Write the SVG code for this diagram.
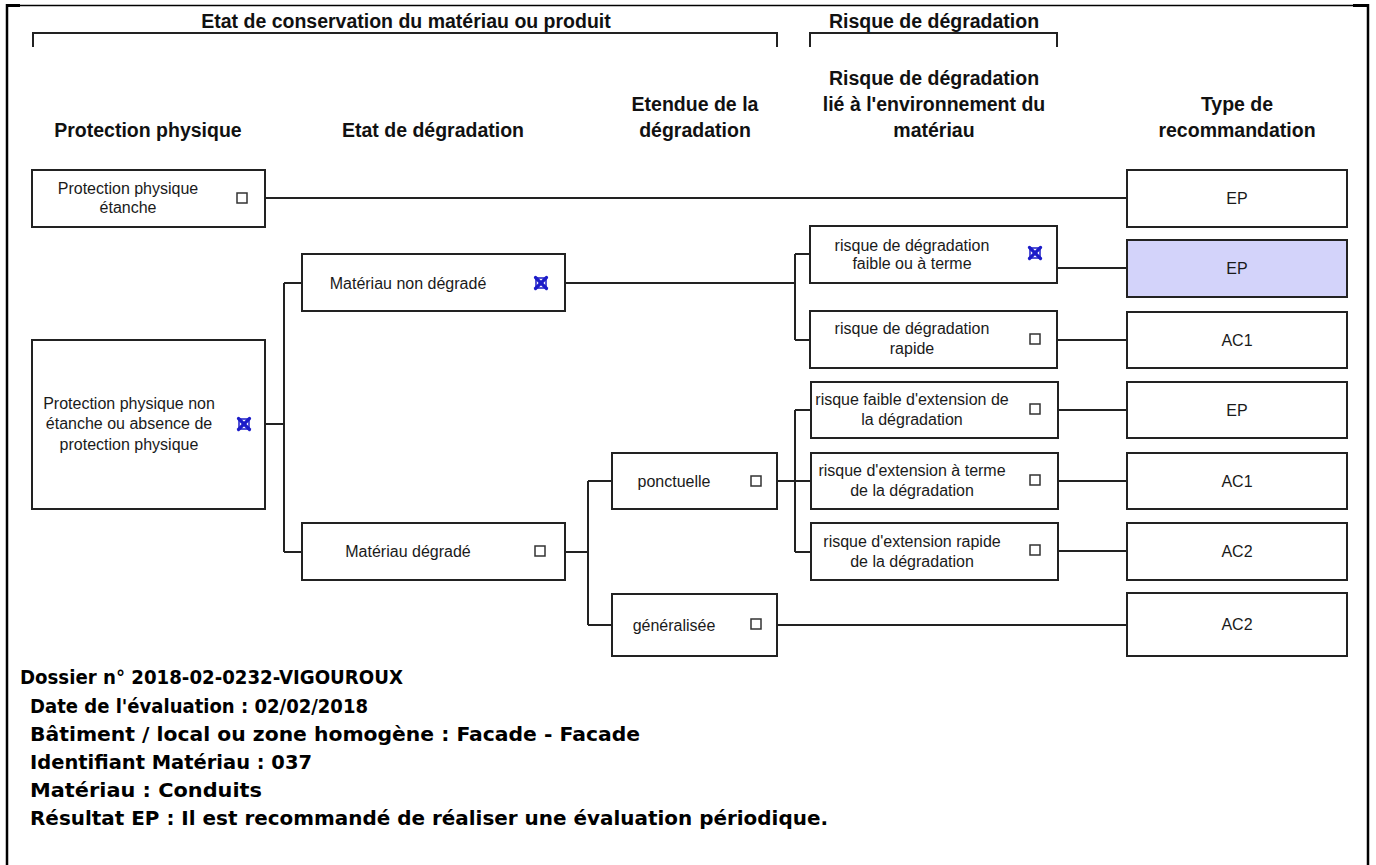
<svg xmlns="http://www.w3.org/2000/svg" width="1376" height="865" viewBox="0 0 1376 865">
<defs>
<style>
.box{fill:#fff;stroke:#222;stroke-width:2}
.sel{fill:#d3d3fa;stroke:#222;stroke-width:2}
.lbl{font-family:"Liberation Sans",Arial,sans-serif;font-size:16px;fill:#1a1a1a;text-anchor:middle}
.hdr{font-family:"Liberation Sans",Arial,sans-serif;font-size:19.5px;font-weight:bold;fill:#111;text-anchor:middle}
.info{font-family:"DejaVu Sans",Verdana,sans-serif;font-size:19.5px;font-weight:bold;fill:#000}
.cb{fill:#fff;stroke:#333;stroke-width:1.5}
.xcb{fill:none;stroke:#1c1cc8;stroke-width:1.5}
.xm{stroke:#1c1cc8;stroke-width:3.2;stroke-linecap:round}
.con{fill:none;stroke:#222;stroke-width:2}
.frame{fill:none;stroke:#000}
</style>
<g id="cbox"><rect class="cb" x="-5" y="-5" width="10" height="10"/></g>
<g id="xbox"><rect class="xcb" x="-5" y="-5" width="10" height="10"/><line class="xm" x1="-5.5" y1="-5.5" x2="5.5" y2="5.5"/><line class="xm" x1="5.5" y1="-5.5" x2="-5.5" y2="5.5"/></g>
</defs>
<rect width="1376" height="865" fill="#fff"/>
<g id="frame">
<line class="frame" x1="7" y1="5.5" x2="1368" y2="5.5" stroke-width="1.5"/>
<line class="frame" x1="7" y1="5.5" x2="20" y2="5.5" stroke-width="3"/>
<line class="frame" x1="1353" y1="5.5" x2="1368" y2="5.5" stroke-width="3"/>
<line class="frame" x1="7" y1="4" x2="7" y2="865" stroke-width="2.5"/>
<line class="frame" x1="1368" y1="4" x2="1368" y2="865" stroke-width="2.5"/>
</g>
<g id="headers">
<text class="hdr" x="406" y="28">Etat de conservation du matériau ou produit</text>
<path class="con" d="M33,47 V33 H777 V47"/>
<text class="hdr" x="934" y="28">Risque de dégradation</text>
<path class="con" d="M810,47 V33 H1057 V47"/>
<text class="hdr" x="148" y="137">Protection physique</text>
<text class="hdr" x="433" y="137">Etat de dégradation</text>
<text class="hdr" x="695" y="111">Etendue de la</text>
<text class="hdr" x="695" y="137">dégradation</text>
<text class="hdr" x="934" y="85">Risque de dégradation</text>
<text class="hdr" x="934" y="111">lié à l'environnement du</text>
<text class="hdr" x="934" y="137">matériau</text>
<text class="hdr" x="1237" y="111">Type de</text>
<text class="hdr" x="1237" y="137">recommandation</text>
</g>
<g id="connectors">
<path class="con" d="M265,198 H1127"/>
<path class="con" d="M265,424 H284 M284,283 V552 M284,283 H302 M284,552 H302"/>
<path class="con" d="M565,283 H795 M795,254 V340 M795,254 H810 M795,340 H810"/>
<path class="con" d="M1057,268 H1127 M1057,340 H1127"/>
<path class="con" d="M565,552 H588 M588,481 V625 M588,481 H612 M588,625 H612"/>
<path class="con" d="M777,481 H811 M795,410 V552 M795,410 H811 M795,552 H811"/>
<path class="con" d="M1058,410 H1127 M1058,481 H1127 M1058,551 H1127"/>
<path class="con" d="M777,625 H1127"/>
</g>
<g id="n_pp_etanche">
<rect class="box" x="32" y="170" width="233" height="57"/>
<text class="lbl" x="128" y="194">Protection physique</text>
<text class="lbl" x="128" y="213">étanche</text>
<use href="#cbox" x="242" y="198"/>
</g>
<g id="n_pp_non">
<rect class="box" x="32" y="340" width="233" height="169"/>
<text class="lbl" x="129" y="409">Protection physique non</text>
<text class="lbl" x="129" y="429">étanche ou absence de</text>
<text class="lbl" x="129" y="450">protection physique</text>
<use href="#xbox" x="244" y="424"/>
</g>
<g id="n_mnd">
<rect class="box" x="302" y="254" width="263" height="57"/>
<text class="lbl" x="408" y="289">Matériau non dégradé</text>
<use href="#xbox" x="541" y="283"/>
</g>
<g id="n_md">
<rect class="box" x="302" y="523" width="263" height="57"/>
<text class="lbl" x="408" y="557">Matériau dégradé</text>
<use href="#cbox" x="540" y="551"/>
</g>
<g id="n_ponct">
<rect class="box" x="612" y="453" width="165" height="56"/>
<text class="lbl" x="674" y="487">ponctuelle</text>
<use href="#cbox" x="756" y="481"/>
</g>
<g id="n_gen">
<rect class="box" x="612" y="594" width="165" height="62"/>
<text class="lbl" x="674" y="631">généralisée</text>
<use href="#cbox" x="756" y="624"/>
</g>
<g id="n_rf">
<rect class="box" x="810" y="226" width="247" height="57"/>
<text class="lbl" x="912" y="251">risque de dégradation</text>
<text class="lbl" x="912" y="269">faible ou à terme</text>
<use href="#xbox" x="1035" y="253"/>
</g>
<g id="n_rr">
<rect class="box" x="810" y="311" width="247" height="57"/>
<text class="lbl" x="912" y="334">risque de dégradation</text>
<text class="lbl" x="912" y="354">rapide</text>
<use href="#cbox" x="1035" y="339"/>
</g>
<g id="n_ef">
<rect class="box" x="811" y="382" width="247" height="56"/>
<text class="lbl" x="912" y="405">risque faible d'extension de</text>
<text class="lbl" x="912" y="425">la dégradation</text>
<use href="#cbox" x="1035" y="409"/>
</g>
<g id="n_et">
<rect class="box" x="811" y="453" width="247" height="56"/>
<text class="lbl" x="912" y="476">risque d'extension à terme</text>
<text class="lbl" x="912" y="496">de la dégradation</text>
<use href="#cbox" x="1035" y="480"/>
</g>
<g id="n_er">
<rect class="box" x="811" y="523" width="247" height="57"/>
<text class="lbl" x="912" y="547">risque d'extension rapide</text>
<text class="lbl" x="912" y="567">de la dégradation</text>
<use href="#cbox" x="1035" y="550"/>
</g>
<g id="r1"><rect class="box" x="1127" y="170" width="220" height="57"/><text class="lbl" x="1237" y="204">EP</text></g>
<g id="r2"><rect class="sel" x="1127" y="240" width="220" height="57"/><text class="lbl" x="1237" y="274" fill="#555">EP</text></g>
<g id="r3"><rect class="box" x="1127" y="312" width="220" height="56"/><text class="lbl" x="1237" y="346">AC1</text></g>
<g id="r4"><rect class="box" x="1127" y="382" width="220" height="56"/><text class="lbl" x="1237" y="416">EP</text></g>
<g id="r5"><rect class="box" x="1127" y="453" width="220" height="56"/><text class="lbl" x="1237" y="487">AC1</text></g>
<g id="r6"><rect class="box" x="1127" y="523" width="220" height="57"/><text class="lbl" x="1237" y="557">AC2</text></g>
<g id="r7"><rect class="box" x="1127" y="593" width="220" height="63"/><text class="lbl" x="1237" y="630">AC2</text></g>
<g id="info">
<text class="info" x="20" y="684" textLength="383" lengthAdjust="spacingAndGlyphs">Dossier n° 2018-02-0232-VIGOUROUX</text>
<text class="info" x="30" y="713" textLength="338" lengthAdjust="spacingAndGlyphs">Date de l'évaluation : 02/02/2018</text>
<text class="info" x="30" y="741" textLength="610" lengthAdjust="spacingAndGlyphs">Bâtiment / local ou zone homogène : Facade - Facade</text>
<text class="info" x="30" y="769" textLength="282" lengthAdjust="spacingAndGlyphs">Identifiant Matériau : 037</text>
<text class="info" x="30" y="797" textLength="232" lengthAdjust="spacingAndGlyphs">Matériau : Conduits</text>
<text class="info" x="30" y="825" textLength="798" lengthAdjust="spacingAndGlyphs">Résultat EP : Il est recommandé de réaliser une évaluation périodique.</text>
</g>
</svg>
